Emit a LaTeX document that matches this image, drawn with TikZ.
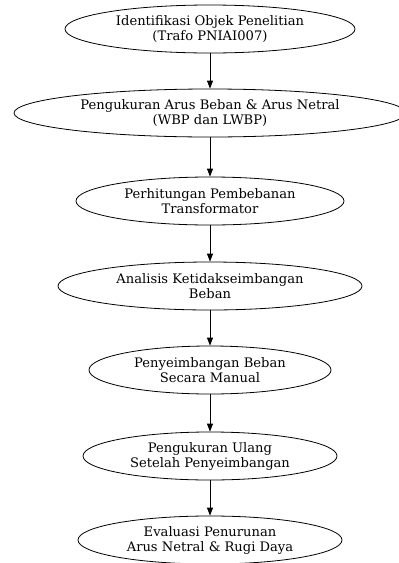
\documentclass[tikz,border=0pt]{standalone}
\usepackage{fontspec}
\setmainfont{DejaVu Serif}
\usetikzlibrary{shapes.geometric,arrows.meta}

\tikzset{
  tahap/.style={draw, ellipse, thick, align=center, inner sep=0pt,
    minimum height=48pt, font=\fontsize{13.1}{15}\selectfont},
  panah/.style={thick, -{Triangle[width=6pt,length=8pt]}}
}

\begin{document}
\begin{tikzpicture}[x=1pt,y=-1pt]
                \useasboundingbox (0,0) rectangle (399,563);

                \node[tahap, minimum width=290pt] (identifikasi) at (210,29)
                  {Identifikasi Objek Penelitian\\(Trafo PNIAI007)};
                \node[tahap, minimum width=392pt] (ukur) at (210,113)
                  {Pengukuran Arus Beban \& Arus Netral\\(WBP dan LWBP)};
                \node[tahap, minimum width=268pt] (hitung) at (210,201)
                  {Perhitungan Pembebanan\\Transformator};
                \node[tahap, minimum width=304pt] (analisis) at (210,286)
                  {Analisis Ketidakseimbangan\\Beban};
                \node[tahap, minimum width=242pt] (seimbang) at (210,370)
                  {Penyeimbangan Beban\\Secara Manual};
                \node[tahap, minimum width=254pt] (ulang) at (210,456)
                  {Pengukuran Ulang\\Setelah Penyeimbangan};
                \node[tahap, minimum width=264pt] (evaluasi) at (210,540)
                  {Evaluasi Penurunan\\Arus Netral \& Rugi Daya};

                \draw[panah] (identifikasi) -- (ukur);
                \draw[panah] (ukur) -- (hitung);
                \draw[panah] (hitung) -- (analisis);
                \draw[panah] (analisis) -- (seimbang);
                \draw[panah] (seimbang) -- (ulang);
                \draw[panah] (ulang) -- (evaluasi);

                \end{tikzpicture}
\end{document}
